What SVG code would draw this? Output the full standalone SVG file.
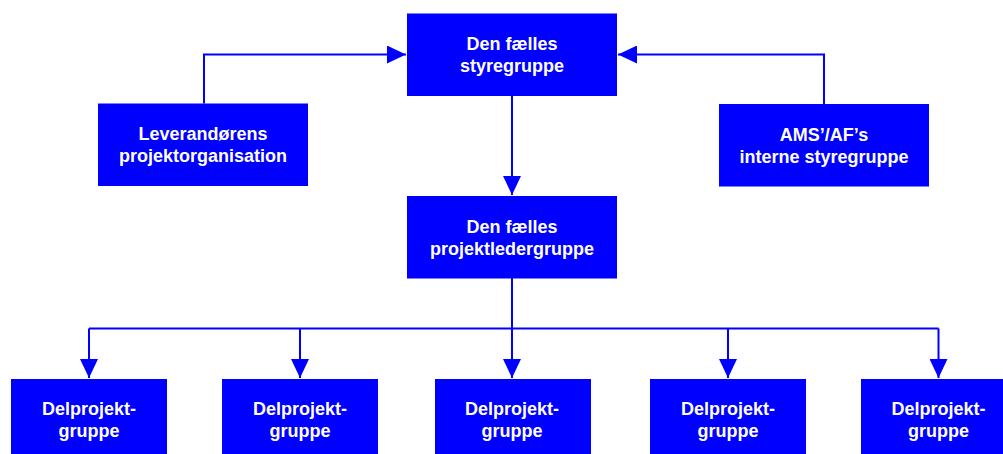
<svg xmlns="http://www.w3.org/2000/svg" width="1003" height="454" viewBox="0 0 1003 454">
<style>
.box{fill:#0000ff}
.lbl{fill:#ffffff;font-family:"Liberation Sans",Arial,sans-serif;font-weight:bold;font-size:18px;text-anchor:middle}
.con{fill:none;stroke:#0000ff;stroke-width:2}
</style>
<defs>
<marker id="ah" markerUnits="userSpaceOnUse" markerWidth="19" markerHeight="18" refX="19" refY="9" orient="auto">
<path d="M0,0 L19,9 L0,18 Z" fill="#0000ff"/>
</marker>
</defs>
<rect width="1003" height="454" fill="#ffffff"/>
<g id="connectors">
<path class="con" d="M204,103.5 V54.5 H406" marker-end="url(#ah)"/>
<path class="con" d="M824,104 V54.5 H618" marker-end="url(#ah)"/>
<path class="con" d="M512,96 V195" marker-end="url(#ah)"/>
<path class="con" d="M512,278 V328.5"/>
<path class="con" d="M89,328.5 H938.5"/>
<path class="con" d="M89,328.5 V378" marker-end="url(#ah)"/>
<path class="con" d="M300,328.5 V378" marker-end="url(#ah)"/>
<path class="con" d="M512,328.5 V378" marker-end="url(#ah)"/>
<path class="con" d="M728,328.5 V378" marker-end="url(#ah)"/>
<path class="con" d="M938.5,328.5 V378" marker-end="url(#ah)"/>
</g>
<g id="styregruppe">
<rect class="box" x="407" y="13.5" width="210" height="82.5"/>
<text class="lbl" x="512" y="50">Den fælles</text>
<text class="lbl" x="512" y="72">styregruppe</text>
</g>
<g id="leverandoer">
<rect class="box" x="98" y="103.5" width="210" height="82.5"/>
<text class="lbl" x="203" y="140">Leverandørens</text>
<text class="lbl" x="203" y="162">projektorganisation</text>
</g>
<g id="ams">
<rect class="box" x="719" y="104" width="210" height="82.5"/>
<text class="lbl" x="824" y="140.5">AMS’/AF’s</text>
<text class="lbl" x="824" y="162.5">interne styregruppe</text>
</g>
<g id="projektledergruppe">
<rect class="box" x="407" y="196" width="210" height="82.5"/>
<text class="lbl" x="512" y="233">Den fælles</text>
<text class="lbl" x="512" y="255">projektledergruppe</text>
</g>
<g id="delprojekt1">
<rect class="box" x="11" y="379" width="156" height="82"/>
<text class="lbl" x="89" y="415">Delprojekt-</text>
<text class="lbl" x="89" y="437">gruppe</text>
</g>
<g id="delprojekt2">
<rect class="box" x="222" y="379" width="156" height="82"/>
<text class="lbl" x="300" y="415">Delprojekt-</text>
<text class="lbl" x="300" y="437">gruppe</text>
</g>
<g id="delprojekt3">
<rect class="box" x="435" y="379" width="156" height="82"/>
<text class="lbl" x="512" y="415">Delprojekt-</text>
<text class="lbl" x="512" y="437">gruppe</text>
</g>
<g id="delprojekt4">
<rect class="box" x="650" y="379" width="156" height="82"/>
<text class="lbl" x="728" y="415">Delprojekt-</text>
<text class="lbl" x="728" y="437">gruppe</text>
</g>
<g id="delprojekt5">
<rect class="box" x="861" y="379" width="156" height="82"/>
<text class="lbl" x="938.5" y="415">Delprojekt-</text>
<text class="lbl" x="938.5" y="437">gruppe</text>
</g>
</svg>
